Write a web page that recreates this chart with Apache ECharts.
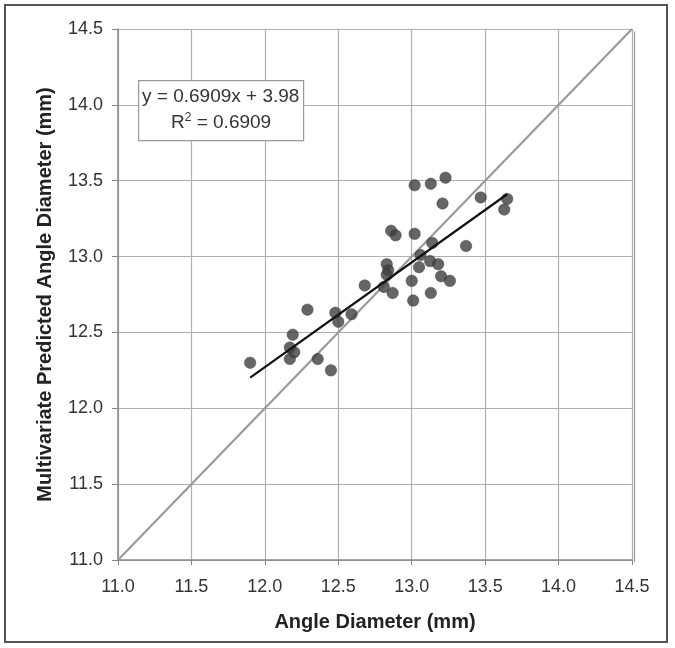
<!DOCTYPE html>
<html>
<head>
<meta charset="utf-8">
<script src="https://cdn.jsdelivr.net/npm/echarts@6/dist/echarts.min.js"></script>
<style>
html,body{margin:0;padding:0;background:#fff;}
#frame{position:absolute;left:4px;top:4px;width:664px;height:639px;border:2px solid #555;box-sizing:border-box;}
#chart{position:absolute;left:0;top:0;width:675px;height:648px;}
</style>
</head>
<body>
<div id="frame"></div>
<div id="chart"></div>
<script>
const xTicks = [11.0, 11.5, 12.0, 12.5, 13.0, 13.5, 14.0, 14.5];
const yTicks = [11.0, 11.5, 12.0, 12.5, 13.0, 13.5, 14.0, 14.5];
const angleDiameter = [11.90, 12.19, 12.17, 12.20, 12.17, 12.29, 12.36, 12.45, 12.48, 12.50, 12.59, 12.68, 12.81, 12.87, 12.83, 12.84, 12.83, 12.86, 12.89, 13.02, 13.02, 13.00, 13.01, 13.05, 13.13, 13.23, 13.21, 13.47, 13.65, 13.63, 13.14, 13.37, 13.06, 13.125, 13.18, 13.20, 13.26, 13.13];
const predictedDiameter = [12.30, 12.485, 12.40, 12.37, 12.325, 12.65, 12.325, 12.25, 12.63, 12.57, 12.62, 12.81, 12.80, 12.76, 12.95, 12.91, 12.88, 13.17, 13.14, 13.47, 13.15, 12.84, 12.71, 12.93, 13.48, 13.52, 13.35, 13.39, 13.38, 13.31, 13.09, 13.07, 13.01, 12.97, 12.95, 12.87, 12.84, 12.76];
const slope = 0.6909;
const intercept = 3.98;
const trendRange = [11.90, 13.65];
const identityRange = [11.0, 14.5];
const equationText = 'y = 0.6909x + 3.98';
const r2Text = 'R{sup|2} = 0.6909';

const scatterData = angleDiameter.map((x, i) => [x, predictedDiameter[i]]);
const trendData = trendRange.map(x => [x, slope * x + intercept]);
const identityData = identityRange.map(x => [x, x]);

const chart = echarts.init(document.getElementById('chart'));
const font = 'Liberation Sans, Arial, sans-serif';
chart.setOption({
  animation: false,
  grid: {left: 118, right: 43, top: 29, bottom: 88},
  xAxis: {
    type: 'value', min: 11.0, max: 14.5, interval: 0.5,
    name: 'Angle Diameter (mm)', nameLocation: 'middle', nameGap: 52,
    nameTextStyle: {fontFamily: font, fontSize: 20, fontWeight: 'bold', color: '#222'},
    axisLine: {show: true, lineStyle: {color: '#888', width: 1.5}},
    axisTick: {show: true, inside: false, length: 5, lineStyle: {color: '#888'}},
    axisLabel: {fontFamily: font, fontSize: 18, color: '#333', margin: 18, formatter: v => v.toFixed(1)},
    splitLine: {show: true, lineStyle: {color: '#b0b0b0', width: 1.2}}
  },
  yAxis: {
    type: 'value', min: 11.0, max: 14.5, interval: 0.5,
    name: 'Multivariate Predicted Angle Diameter (mm)', nameLocation: 'middle', nameGap: 63,
    nameTextStyle: {fontFamily: font, fontSize: 20, fontWeight: 'bold', color: '#222'},
    axisLine: {show: true, lineStyle: {color: '#888', width: 1.5}},
    axisTick: {show: true, inside: false, length: 6, lineStyle: {color: '#888'}},
    axisLabel: {fontFamily: font, fontSize: 18, color: '#333', margin: 15, formatter: v => v.toFixed(1)},
    splitLine: {show: true, lineStyle: {color: '#b0b0b0', width: 1.2}}
  },
  graphic: [
    {type: 'rect', left: 632, top: 29, shape: {width: 0, height: 531}, style: {stroke: '#999', lineWidth: 1.2, fill: null}, z: 1},
    {type: 'rect', left: 138, top: 80, z: 100, shape: {x: 0, y: 0, width: 165, height: 60}, style: {fill: '#fff', stroke: '#999', lineWidth: 1.2}},
    {type: 'text', left: 142, top: 87, z: 101, style: {text: equationText, fontFamily: font, fontSize: 19, fill: '#333'}},
    {type: 'text', left: 171, top: 112, z: 101, style: {text: r2Text, fontFamily: font, fontSize: 19, fill: '#333',
        rich: {sup: {fontSize: 12, verticalAlign: 'top', padding: [0, 0, 10, 0], fontFamily: font, fill: '#333'}}}}
  ],
  series: [
    {type: 'line', data: identityData, symbol: 'none', lineStyle: {color: '#9a9a9a', width: 2.2}, z: 2},
    {type: 'scatter', data: scatterData, symbol: 'circle', symbolSize: 11.5, itemStyle: {color: '#3f3f3f', borderColor: '#333', borderWidth: 0.5}, z: 3},
    {type: 'line', data: trendData, symbol: 'none', lineStyle: {color: '#111', width: 2.2}, z: 4}
  ]
});
</script>
</body>
</html>
